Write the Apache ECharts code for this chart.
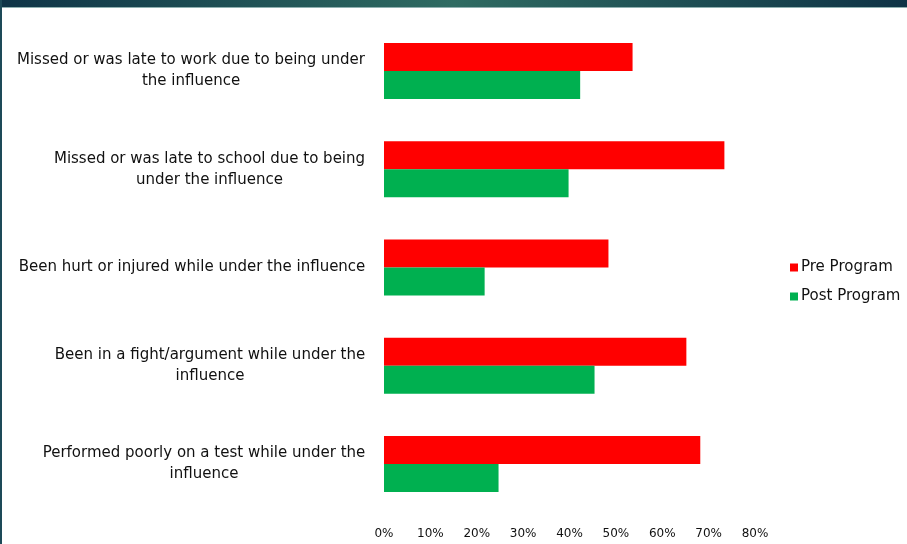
<!DOCTYPE html>
<html>
<head>
<meta charset="utf-8">
<script src="https://cdn.jsdelivr.net/npm/echarts@6/dist/echarts.min.js"></script>
<style>
  html, body { margin: 0; padding: 0; background: #fff; }
  #chart { width: 907px; height: 544px; }
</style>
</head>
<body>
<div id="chart"></div>
<script>
// data
const categories = [
  'Missed or was late to work due to being under\nthe influence',
  'Missed or was late to school due to being\nunder the influence',
  'Been hurt or injured while under the influence',
  'Been in a fight/argument while under the\ninfluence',
  'Performed poorly on a test while under the\ninfluence'
];
const preProgram = [53.6, 73.4, 48.4, 65.2, 68.2];
const postProgram = [42.3, 39.8, 21.7, 45.4, 24.7];
const xTicks = [0, 10, 20, 30, 40, 50, 60, 70, 80];

const FONT = '"DejaVu Sans", sans-serif';
const LABEL_SIZE = 15;

// width of the widest line for each category, so lines can be centred in the block
const ctx = document.createElement('canvas').getContext('2d');
ctx.font = LABEL_SIZE + 'px ' + FONT;
const rich = {};
categories.forEach((c, i) => {
  const w = Math.max(...c.split('\n').map(s => ctx.measureText(s).width));
  rich['c' + i] = { width: Math.ceil(w) + 1, align: 'center', fontSize: LABEL_SIZE, lineHeight: 21, color: '#111', fontFamily: FONT };
});

const chart = echarts.init(document.getElementById('chart'));
const option = {
  animation: false,
  backgroundColor: '#fff',
  graphic: [
    {
      type: 'rect', left: 0, top: 0, z: 10,
      shape: { width: 907, height: 7 },
      style: {
        fill: new echarts.graphic.LinearGradient(0, 0, 1, 0, [
          { offset: 0, color: '#0f3447' },
          { offset: 0.5, color: '#2f6b62' },
          { offset: 1, color: '#0f3346' }
        ])
      }
    },
    { type: 'rect', left: 0, top: 7, z: 10, shape: { width: 907, height: 1 }, style: { fill: '#8fb0b0' } },
    { type: 'rect', left: 0, top: 0, z: 10, shape: { width: 2, height: 544 }, style: { fill: '#1d4a58' } }
  ],
  legend: {
    data: ['Pre Program', 'Post Program'],
    orient: 'vertical',
    left: 785,
    top: 255,
    itemWidth: 8,
    itemHeight: 8,
    itemGap: 14,
    icon: 'rect',
    textStyle: { fontSize: 15, color: '#111', fontFamily: FONT, padding: [0, 0, 0, -2] }
  },
  grid: { left: 384, right: 152, top: 22, bottom: 31, containLabel: false },
  xAxis: {
    type: 'value',
    min: 0,
    max: 80,
    interval: 10,
    axisLine: { show: false },
    axisTick: { show: false },
    splitLine: { show: false },
    axisLabel: {
      margin: 15,
      fontSize: 12,
      color: '#111',
      fontFamily: FONT,
      formatter: v => xTicks.includes(v) ? v + '%' : ''
    }
  },
  yAxis: {
    type: 'category',
    inverse: true,
    data: categories,
    axisLine: { show: false },
    axisTick: { show: false },
    axisLabel: {
      margin: 18,
      formatter: (v, i) => v.split('\n').map(s => '{c' + i + '|' + s + '}').join('\n'),
      rich: rich
    }
  },
  series: [
    {
      name: 'Pre Program',
      type: 'bar',
      data: preProgram,
      barWidth: 28,
      barGap: '0%',
      itemStyle: { color: '#ff0000' }
    },
    {
      name: 'Post Program',
      type: 'bar',
      data: postProgram,
      barWidth: 28,
      barGap: '0%',
      itemStyle: { color: '#00b050' }
    }
  ]
};
chart.setOption(option);
</script>
</body>
</html>
